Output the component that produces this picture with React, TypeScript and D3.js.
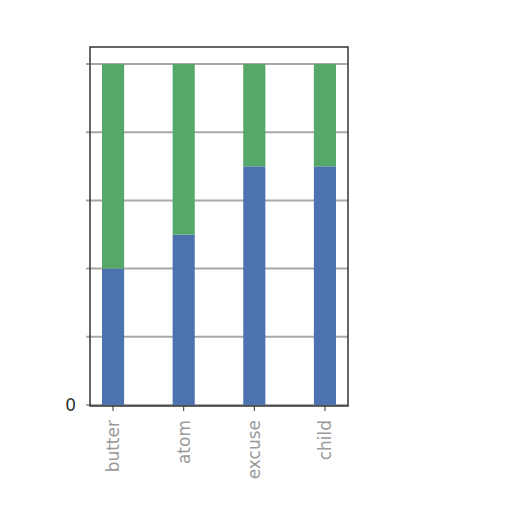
import { useEffect, useRef } from "react";
import * as d3 from "d3";

const categories = ["butter", "atom", "excuse", "child"];
const blueValues = [40, 50, 70, 70];
const greenValues = [60, 50, 30, 30];
const yTicks = [0, 20, 40, 60, 80, 100];

export default function App() {
  const svgRef = useRef<SVGSVGElement>(null);

  useEffect(() => {
    const width = 512;
    const height = 512;
    const svg = d3.select(svgRef.current).attr("width", width).attr("height", height);
    svg.selectAll("*").remove();

    // plot area
    const left = 90;
    const right = 348;
    const top = 47;
    const bottom = 406;

    const xScale = d3
      .scaleBand<string>()
      .domain(categories)
      .range([left, right])
      .paddingInner(0.687)
      .paddingOuter(0.17);
    const yScale = d3.scaleLinear().domain([0, 105]).range([405, top]);

    svg
      .append("rect")
      .attr("x", left)
      .attr("y", top)
      .attr("width", right - left)
      .attr("height", bottom - top)
      .attr("fill", "white");

    // grid lines
    svg
      .append("g")
      .selectAll("line")
      .data(yTicks)
      .join("line")
      .attr("x1", left - 4)
      .attr("x2", right)
      .attr("y1", (d) => yScale(d))
      .attr("y2", (d) => yScale(d))
      .attr("stroke", "#a8a8a8")
      .attr("stroke-width", 2);

    // stacked bars
    const rows = categories.map((c, i) => ({ cat: c, blue: blueValues[i], green: greenValues[i] }));
    const stack = d3.stack<any>().keys(["blue", "green"])(rows);
    const colors: Record<string, string> = { blue: "#4c72b0", green: "#55a868" };

    svg
      .append("g")
      .selectAll("g")
      .data(stack)
      .join("g")
      .attr("fill", (s) => colors[s.key])
      .selectAll("rect")
      .data((s) => s)
      .join("rect")
      .attr("x", (d) => xScale(d.data.cat)!)
      .attr("width", xScale.bandwidth())
      .attr("y", (d) => yScale(d[1]))
      .attr("height", (d) => yScale(d[0]) - yScale(d[1]));

    // frame
    svg
      .append("rect")
      .attr("x", left)
      .attr("y", top)
      .attr("width", right - left)
      .attr("height", bottom - top)
      .attr("fill", "none")
      .attr("stroke", "#333")
      .attr("stroke-width", 1.5);

    // x ticks and labels
    const xg = svg.append("g");
    xg.selectAll("line")
      .data(categories)
      .join("line")
      .attr("x1", (d) => xScale(d)! + xScale.bandwidth() / 2)
      .attr("x2", (d) => xScale(d)! + xScale.bandwidth() / 2)
      .attr("y1", bottom)
      .attr("y2", bottom + 5)
      .attr("stroke", "#333");
    xg.selectAll("text")
      .data(categories)
      .join("text")
      .attr(
        "transform",
        (d) => `translate(${xScale(d)! + xScale.bandwidth() / 2 + 6}, ${bottom + 14}) rotate(-90)`
      )
      .attr("text-anchor", "end")
      .attr("font-family", "DejaVu Sans, sans-serif")
      .attr("font-size", 17)
      .attr("fill", "#9a9a9a")
      .text((d) => d);

    // y label
    svg
      .append("text")
      .attr("x", left - 14)
      .attr("y", yScale(0))
      .attr("dy", "0.35em")
      .attr("text-anchor", "end")
      .attr("font-family", "DejaVu Sans, sans-serif")
      .attr("font-size", 17)
      .attr("fill", "#333")
      .text("0");
  }, []);

  return <svg ref={svgRef} style={{ position: "absolute", left: 0, top: 0 }}></svg>;
}
